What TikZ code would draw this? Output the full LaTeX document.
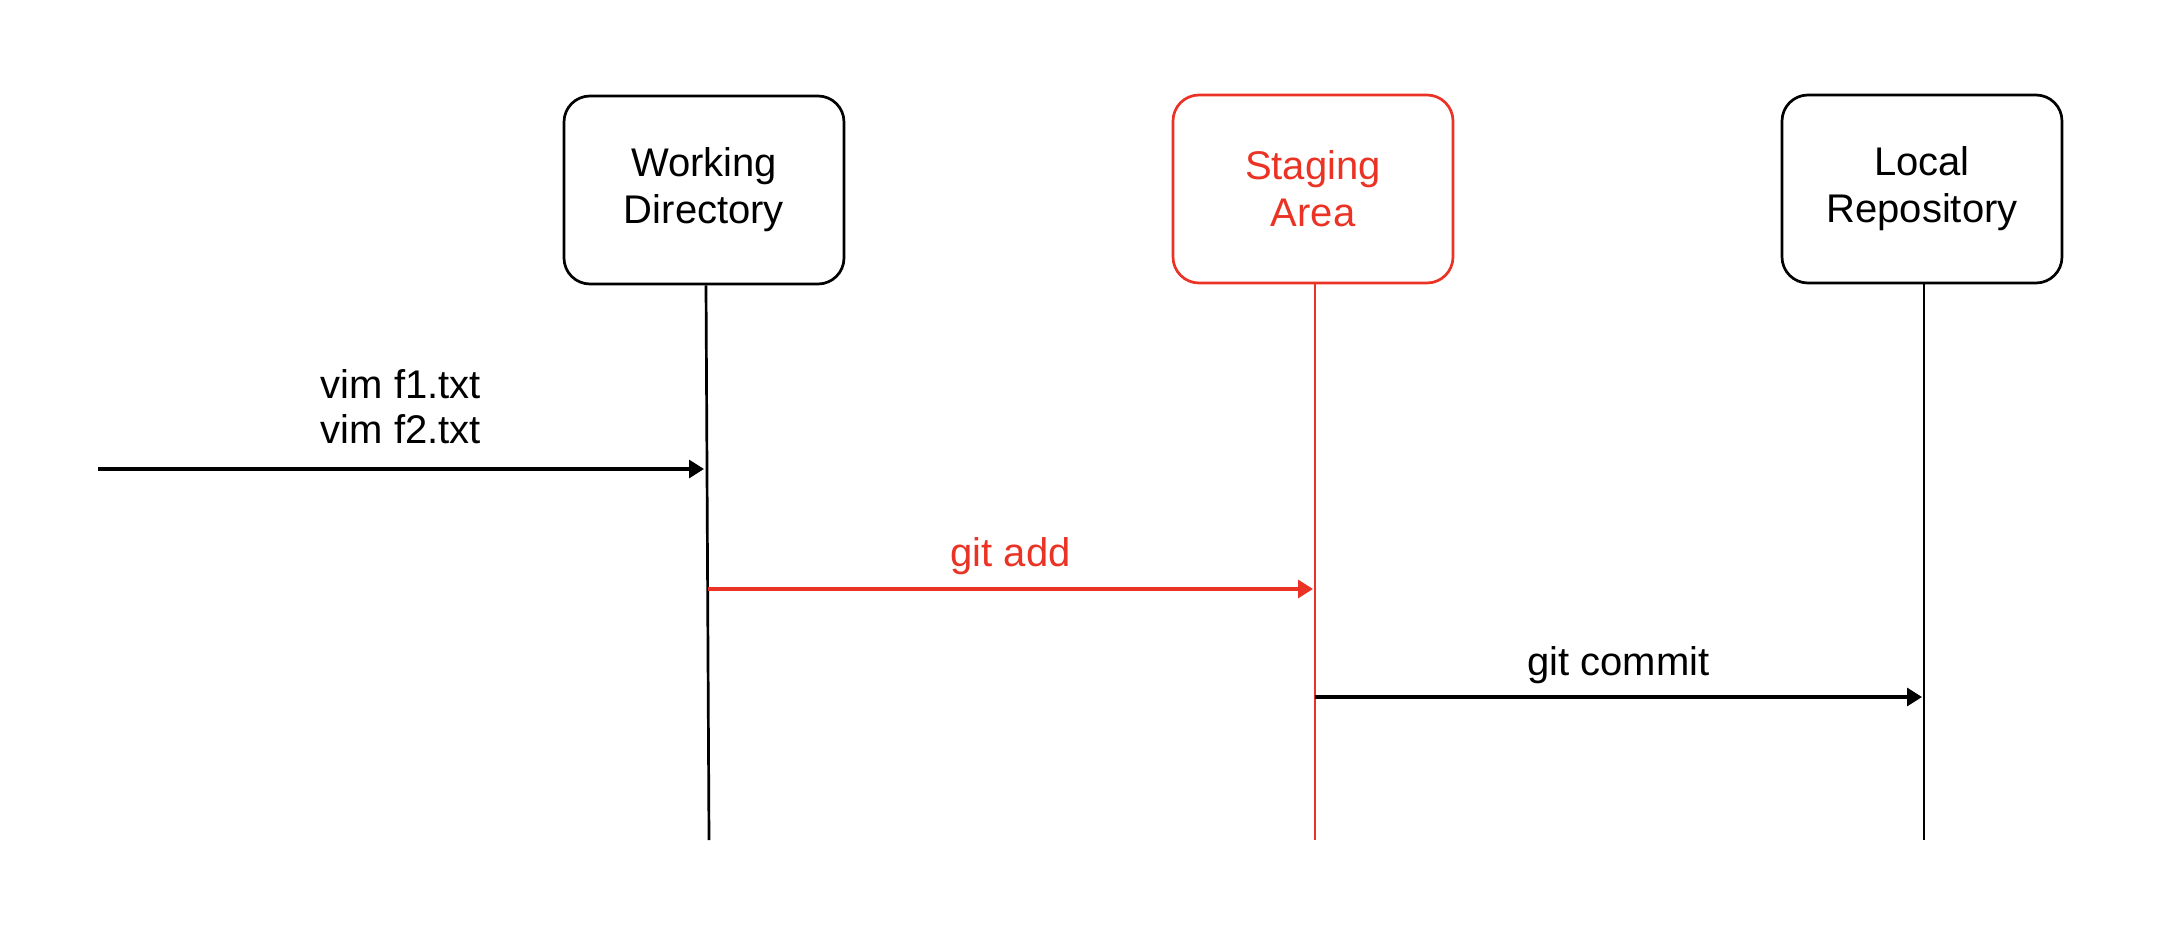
\documentclass[tikz,border=0pt]{standalone}
\usepackage[dvipsnames]{xcolor}
\usepackage{fontspec}
\setmainfont{Liberation Sans}
\usetikzlibrary{arrows.meta}
\definecolor{StageRed}{RGB}{234,51,37}

\begin{document}
\begin{tikzpicture}[x=0.5pt, y=-0.5pt,
	store/.style={draw, rounded corners=13pt, line width=1.35pt, minimum width=140pt, minimum height=94pt, align=center, font=\fontsize{20pt}{23.5pt}\selectfont},
	life/.style={line width=1.35pt},
	msg/.style={line width=1.6pt, -{Triangle[length=7.5pt, width=9pt]}},
	cmd/.style={font=\fontsize{20pt}{22.5pt}\selectfont, align=center, inner sep=0pt}]
	\useasboundingbox (0,0) rectangle (2176,948);

	\node[store] (wd) at (704,190) {Working\\Directory};
	\node[store, StageRed] (sa) at (1313,189) {Staging\\Area};
	\node[store] (lr) at (1922,189) {Local\\Repository};

	\coordinate (wdtop) at ([xshift=1pt]wd.south);
	\coordinate (satop) at ([xshift=1pt]sa.south);
	\coordinate (lrtop) at ([xshift=1pt]lr.south);
	\coordinate (wdend) at (709,840);
	\coordinate (saend) at (satop |- 0,840);
	\coordinate (lrend) at (lrtop |- 0,840);
	\draw[life] (wdtop) -- (wdend);
	\draw[life, StageRed] (satop) -- (saend);
	\draw[life] (lrtop) -- (lrend);

	\coordinate (edit) at (98,469);
	\coordinate (wdedit) at (wd.south |- edit);
	\coordinate (wdadd) at (708,589);
	\coordinate (saadd) at (sa.south |- wdadd);
	\coordinate (sacommit) at (satop |- 0,697);
	\coordinate (lrcommit) at (lr.south |- sacommit);

	\draw[msg] (edit) -- (wdedit) node[cmd, pos=0.5, above=12pt] (vim) {vim f1.txt\\vim f2.txt};
	\draw[msg, StageRed] (wdadd) -- (saadd) node[cmd, pos=0.5, anchor=base, yshift=11.5pt] (add) {git add};
	\draw[msg] (sacommit) -- (lrcommit) node[cmd, pos=0.5, anchor=base, yshift=11pt] (commit) {git commit};
\end{tikzpicture}
\end{document}
